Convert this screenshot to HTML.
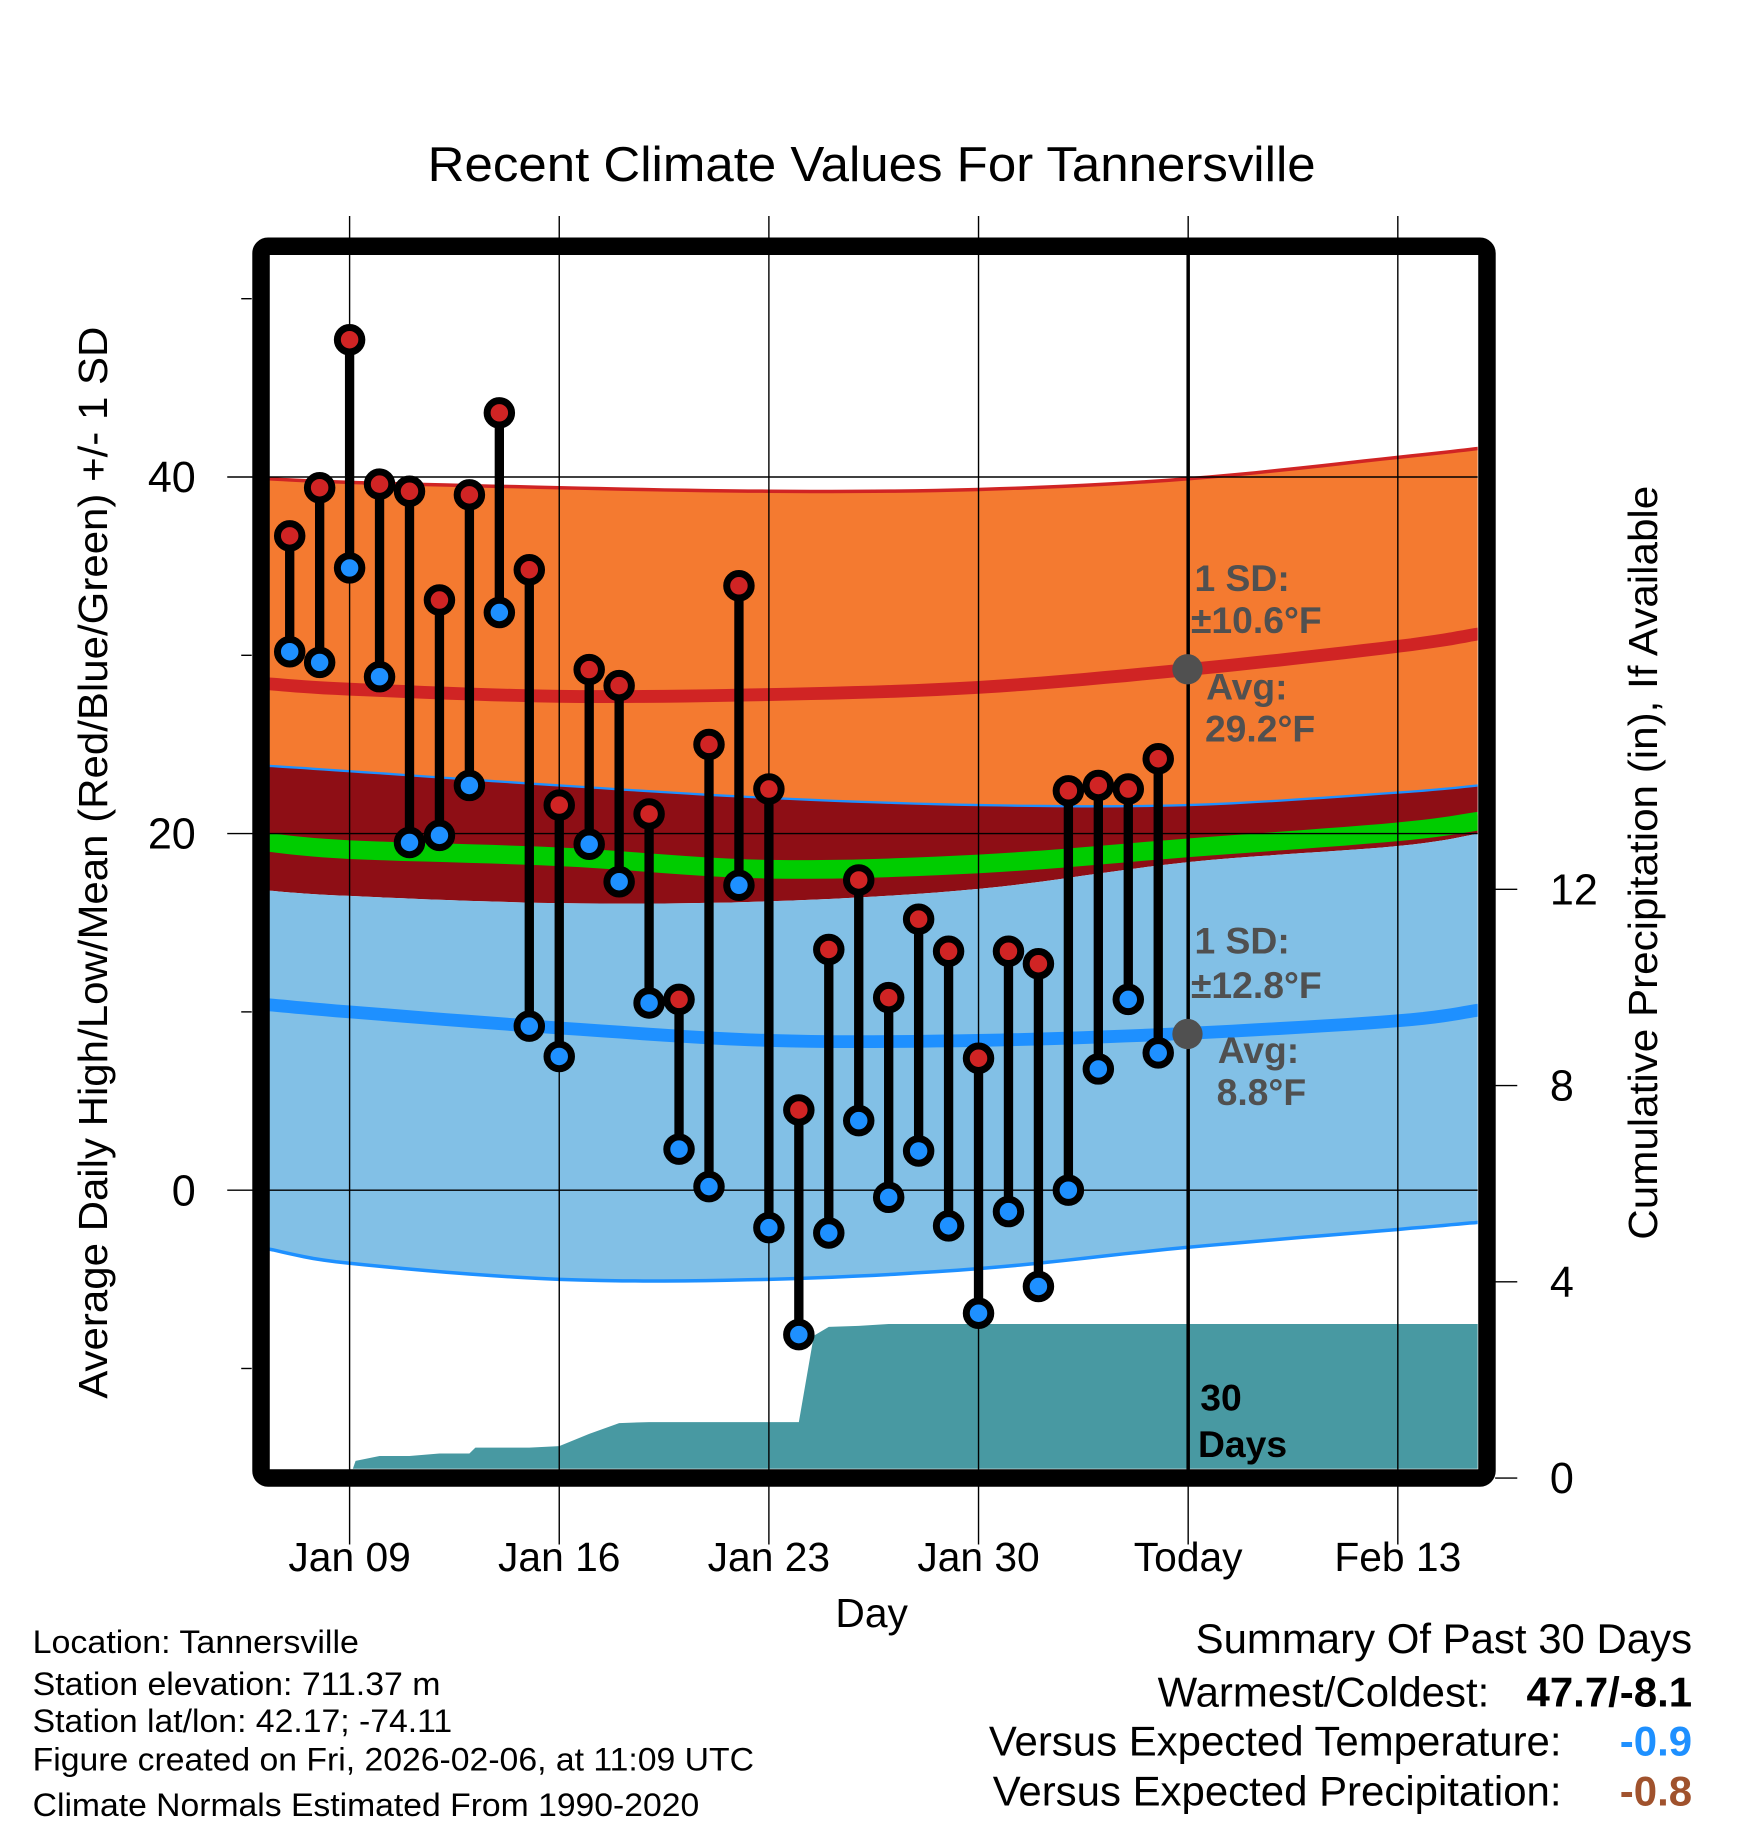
<!DOCTYPE html>
<html><head><meta charset="utf-8"><style>
html,body{margin:0;padding:0;background:#fff;}
svg{display:block;font-family:"Liberation Sans",Arial,sans-serif;}
</style></head><body>
<svg id="chart" width="1748" height="1828" viewBox="0 0 1500 1568" xmlns="http://www.w3.org/2000/svg">
<text x="748" y="155" font-size="42" text-anchor="middle" textLength="762" lengthAdjust="spacingAndGlyphs">Recent Climate Values For Tannersville</text>
<defs><clipPath id="plotclip"><rect x="231" y="218" width="1037" height="1042"/></clipPath></defs>
<g id="plot" clip-path="url(#plotclip)"></g>
<g id="over"></g>
</svg>
<script>
// ---- data ----
const obsDays = [0,1,2,3,4,5,6,7,8,9,10,11,12,13,14,15,16,17,18,19,20,21,22,23,24,25,26,27,28,29]; // days since Jan 07
const highs = [36.7,39.4,47.7,39.6,39.2,33.1,39.0,43.6,34.8,21.6,29.2,28.3,21.1,10.7,25.0,33.9,22.5,4.5,13.5,17.4,10.8,15.2,13.4,7.4,13.4,12.7,22.4,22.7,22.5,24.2];
const lows  = [30.2,29.6,34.9,28.8,19.5,19.9,22.7,32.4,9.2,7.5,19.4,17.3,10.5,2.3,0.2,17.1,-2.1,-8.1,-2.4,3.9,-0.4,2.2,-2.0,-6.9,-1.2,-5.4,0.0,6.8,10.7,7.7];
const precipDays = [0,1,2,2.2,3,4,5,6,6.2,7,8,9,10,11,12,17,17.5,18,19,20,41];
const precipCum  = [0,0,0,0.35,0.45,0.45,0.5,0.5,0.62,0.62,0.62,0.65,0.9,1.12,1.14,1.14,2.9,3.08,3.1,3.14,3.14];
const normDays = [-0.7,2,9,16,23,30,37,39.7];
const hiPlus  = [39.9,39.7,39.4,39.2,39.3,39.9,41.1,41.6];
const hiAvg   = [28.4,28.1,27.7,27.8,28.2,29.2,30.5,31.2];
const hiMinus = [23.8,23.5,22.7,22.0,21.6,21.6,22.3,22.7];
const meanAvg = [19.5,19.1,18.7,18.0,18.3,19.2,20.1,20.7];
const loPlus  = [16.8,16.5,16.1,16.2,16.9,18.4,19.3,20.0];
const loAvg   = [10.4,10.0,9.1,8.4,8.4,8.8,9.5,10.1];
const loMinus = [-3.3,-4.1,-5.0,-5.0,-4.4,-3.2,-2.2,-1.8];
const xTickDays = [2,9,16,23,30,37];
const xTickLabels = ["Jan 09","Jan 16","Jan 23","Jan 30","Today","Feb 13"];
const yTicks = [0,20,40];
const yMinor = [-10,10,30,50];
const pTicks = [0,4,8,12];

// ---- axes ----
const X = d => 300 + (d-2)*25.7;
const Y = t => 1021 - t*15.3;
const P = v => 1268 - v*42.1;
const NS = "http://www.w3.org/2000/svg";
function mk(parent, tag, attrs){const e=document.createElementNS(NS,tag);for(const k in attrs)e.setAttribute(k,attrs[k]);parent.appendChild(e);return e;}
const svg=document.getElementById('chart'), plot=document.getElementById('plot'), over=document.getElementById('over');
// smooth via Catmull-Rom sampling of the normal arrays
function curvePts(arr){
  const out=[];
  for(let i=0;i<normDays.length-1;i++){
    const p0=Math.max(i-1,0),p3=Math.min(i+2,normDays.length-1);
    for(let s=0;s<10;s++){
      const t=s/10,t2=t*t,t3=t2*t;
      const f=(a,b,c,d)=>0.5*((2*b)+(-a+c)*t+(2*a-5*b+4*c-d)*t2+(-a+3*b-3*c+d)*t3);
      const d=f(normDays[p0],normDays[i],normDays[i+1],normDays[p3]);
      const v=f(arr[p0],arr[i],arr[i+1],arr[p3]);
      out.push(X(d).toFixed(1)+','+Y(v).toFixed(1));
    }
  }
  const n=normDays.length-1;
  out.push(X(normDays[n])+','+Y(arr[n]));
  return out;
}
function band(top,bot,fill,name){
  const pts=curvePts(top).concat(curvePts(bot).reverse());
  const e=mk(plot,'polygon',{points:pts.join(' '),fill:fill});
  
  
}
function pl(arr,stroke,w,name){
  const e=mk(plot,'polyline',{points:curvePts(arr).join(' '),fill:'none',stroke:stroke,'stroke-width':w});
  
  
}
band(hiPlus,hiMinus,'#f47a30','high-sd-band');
band(hiMinus,loPlus,'#8e0e15','overlap-band');
band(loPlus,loMinus,'#82c0e6','low-sd-band');
pl(hiPlus,'#d02424',3,'high-plus-sd-line');
pl(hiMinus,'#1e90ff',2,'high-minus-sd-line');
pl(loMinus,'#1e90ff',3,'low-minus-sd-line');
pl(meanAvg,'#00cc00',16,'mean-avg-line');
pl(hiAvg,'#d02424',11,'high-avg-line');
pl(loAvg,'#1e90ff',11,'low-avg-line');
// precip
{
  const pts=precipDays.map((d,i)=>X(d)+','+P(precipCum[i]));
  pts.push(X(41)+','+1270, X(0)+','+1270);
  const e=mk(plot,'polygon',{points:pts.join(' '),fill:'#4899a2'});
  
  
}
// gridlines
xTickDays.forEach((d,i)=>{
  const g=mk(over,'line',{x1:X(d),x2:X(d),y1:185,y2:1325,stroke:'#000','stroke-width':i==4?3:1.2});
  if(i==4){g.setAttribute('y1',218);g.setAttribute('y2',1262);mk(over,'line',{x1:X(d),x2:X(d),y1:185,y2:1325,stroke:'#000','stroke-width':1.2});}
  
  
  const t=mk(over,'text',{x:X(d),y:1348,'font-size':35,'text-anchor':'middle'});
  t.textContent=xTickLabels[i];
  
  
});
yTicks.forEach(v=>{
  const g=mk(over,'line',{x1:195,x2:1268,y1:Y(v),y2:Y(v),stroke:'#000','stroke-width':1.2});
  
  
  const t=mk(over,'text',{x:168,y:Y(v)+13,'font-size':37,'text-anchor':'end'});
  t.textContent=v;
  
  
});
yMinor.forEach(v=>{
  const g=mk(over,'line',{x1:207,x2:216,y1:Y(v),y2:Y(v),stroke:'#000','stroke-width':1.2});
  
  
});
pTicks.forEach(v=>{
  const g=mk(over,'line',{x1:1283,x2:1302,y1:P(v),y2:P(v),stroke:'#000','stroke-width':1.2});
  
  
  const t=mk(over,'text',{x:1330,y:P(v)+13,'font-size':37});
  t.textContent=v;
  
  
});
// observations
obsDays.forEach((d,i)=>{
  const x=X(d);
  const s=mk(over,'line',{x1:x,x2:x,y1:Y(highs[i]),y2:Y(lows[i]),stroke:'#000','stroke-width':8});
  
  
  const h=mk(over,'circle',{cx:x,cy:Y(highs[i]),r:10.5,fill:'#d02424',stroke:'#000','stroke-width':6});
  
  
  const l=mk(over,'circle',{cx:x,cy:Y(lows[i]),r:10.5,fill:'#1e90ff',stroke:'#000','stroke-width':6});
  
  
});
</script>
<svg style="position:absolute;left:0;top:0" width="1748" height="1828" viewBox="0 0 1500 1568" xmlns="http://www.w3.org/2000/svg" font-family="Liberation Sans, Arial, sans-serif">
<rect x="224" y="211" width="1052" height="1057" rx="6" fill="none" stroke="#000" stroke-width="15"/>
<g fill="#505050" font-weight="bold" font-size="32">
<circle cx="1019" cy="574" r="13" fill="#505050"/>
<text x="1025" y="507">1 SD:</text><text x="1022" y="543">±10.6°F</text>
<text x="1035" y="600">Avg:</text><text x="1034" y="636">29.2°F</text>
</g>
<g fill="#505050" font-weight="bold" font-size="32">
<circle cx="1019" cy="887" r="13" fill="#505050"/>
<text x="1025" y="818">1 SD:</text><text x="1022" y="856">±12.8°F</text>
<text x="1045" y="912">Avg:</text><text x="1044" y="948">8.8°F</text>
</g>
<text x="1030" y="1210" font-size="32" font-weight="bold">30</text>
<text x="1028" y="1250" font-size="32" font-weight="bold">Days</text>
<text transform="translate(92,740) rotate(-90)" font-size="35" text-anchor="middle" textLength="920" lengthAdjust="spacingAndGlyphs">Average Daily High/Low/Mean (Red/Blue/Green) +/- 1 SD</text>
<text transform="translate(1422,740) rotate(-90)" font-size="35" text-anchor="middle" textLength="647" lengthAdjust="spacingAndGlyphs">Cumulative Precipitation (in), If Available</text>
<text x="748" y="1396" font-size="35" text-anchor="middle">Day</text>
<g font-size="28">
<text x="28" y="1418" textLength="280" lengthAdjust="spacingAndGlyphs">Location: Tannersville</text>
<text x="28" y="1454" textLength="350" lengthAdjust="spacingAndGlyphs">Station elevation: 711.37 m</text>
<text x="28" y="1486" textLength="360" lengthAdjust="spacingAndGlyphs">Station lat/lon: 42.17; -74.11</text>
<text x="28" y="1519" textLength="619" lengthAdjust="spacingAndGlyphs">Figure created on Fri, 2026-02-06, at 11:09 UTC</text>
<text x="28" y="1558" textLength="572" lengthAdjust="spacingAndGlyphs">Climate Normals Estimated From 1990-2020</text>
</g>
<g font-size="36">
<text x="1452" y="1418" text-anchor="end">Summary Of Past 30 Days</text>
<text x="1278" y="1464" text-anchor="end">Warmest/Coldest:</text>
<text x="1452" y="1464" text-anchor="end" font-weight="bold">47.7/-8.1</text>
<text x="1340" y="1506" text-anchor="end">Versus Expected Temperature:</text>
<text x="1452" y="1506" text-anchor="end" font-weight="bold" fill="#1e90ff">-0.9</text>
<text x="1340" y="1549" text-anchor="end">Versus Expected Precipitation:</text>
<text x="1452" y="1549" text-anchor="end" font-weight="bold" fill="#a0522d">-0.8</text>
</g>
</svg>
</body></html>
